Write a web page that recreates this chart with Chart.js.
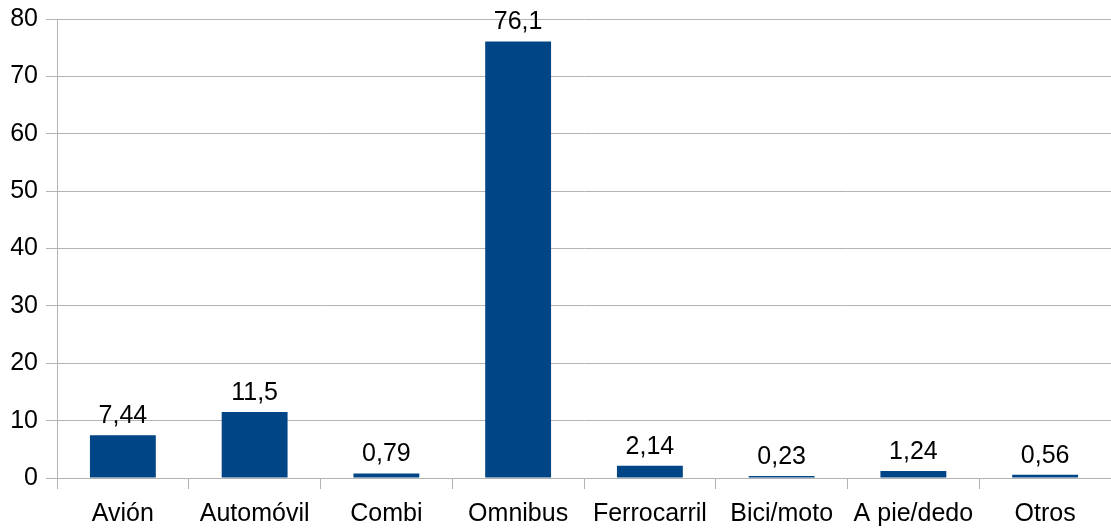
<!DOCTYPE html>
<html>
<head>
<meta charset="utf-8">
<script src="https://cdn.jsdelivr.net/npm/chart.js@4/dist/chart.umd.min.js"></script>
<style>
  html, body { margin: 0; padding: 0; background: #fff; }
  #wrap { width: 1111px; height: 532px; }
</style>
</head>
<body>
<div id="wrap"><canvas id="chart" width="1111" height="532"></canvas></div>
<script>
const categories = ['Avión', 'Automóvil', 'Combi', 'Omnibus', 'Ferrocarril', 'Bici/moto', 'A pie/dedo', 'Otros'];
const values = [7.44, 11.5, 0.79, 76.1, 2.14, 0.23, 1.24, 0.56];
const labelTexts = ['7,44', '11,5', '0,79', '76,1', '2,14', '0,23', '1,24', '0,56'];

const gridColor = '#b3b3b3';
const font = { family: '"Liberation Sans", Arial, sans-serif', size: 25 };

// draws the value above each bar
const valueLabels = {
    id: 'valueLabels',
    afterDatasetsDraw(chart) {
        const ctx = chart.ctx;
        const meta = chart.getDatasetMeta(0);
        ctx.save();
        ctx.font = `${font.size}px ${font.family}`;
        ctx.fillStyle = '#000';
        ctx.textAlign = 'center';
        ctx.textBaseline = 'alphabetic';
        meta.data.forEach((bar, i) => {
            ctx.fillText(labelTexts[i], bar.x, bar.y - 12);
        });
        ctx.restore();
    }
};

new Chart(document.getElementById('chart'), {
    type: 'bar',
    data: {
        labels: categories,
        datasets: [{
            data: values,
            backgroundColor: '#004586',
            barPercentage: 0.5,
            categoryPercentage: 1,
            minBarLength: 2
        }]
    },
    options: {
        responsive: false,
        animation: false,
        layout: { padding: { top: 19, right: 0, bottom: 0, left: 0 } },
        plugins: { legend: { display: false }, tooltip: { enabled: false } },
        scales: {
            x: {
                afterFit(scale) { scale.height = 54; scale.paddingLeft = 0; scale.paddingRight = 0; },
                grid: { drawOnChartArea: false, drawTicks: true, tickLength: 11, color: gridColor, offset: true },
                border: { color: gridColor },
                ticks: { color: '#000', font: font, padding: 10, maxRotation: 0, autoSkip: false }
            },
            y: {
                min: 0,
                max: 80,
                afterFit(scale) { scale.width = 57; scale.paddingTop = 0; scale.paddingBottom = 0; },
                grid: { color: gridColor, tickLength: 11 },
                border: { color: gridColor },
                ticks: { stepSize: 10, color: '#000', font: font, padding: 8 }
            }
        }
    },
    plugins: [valueLabels]
});
</script>
</body>
</html>
